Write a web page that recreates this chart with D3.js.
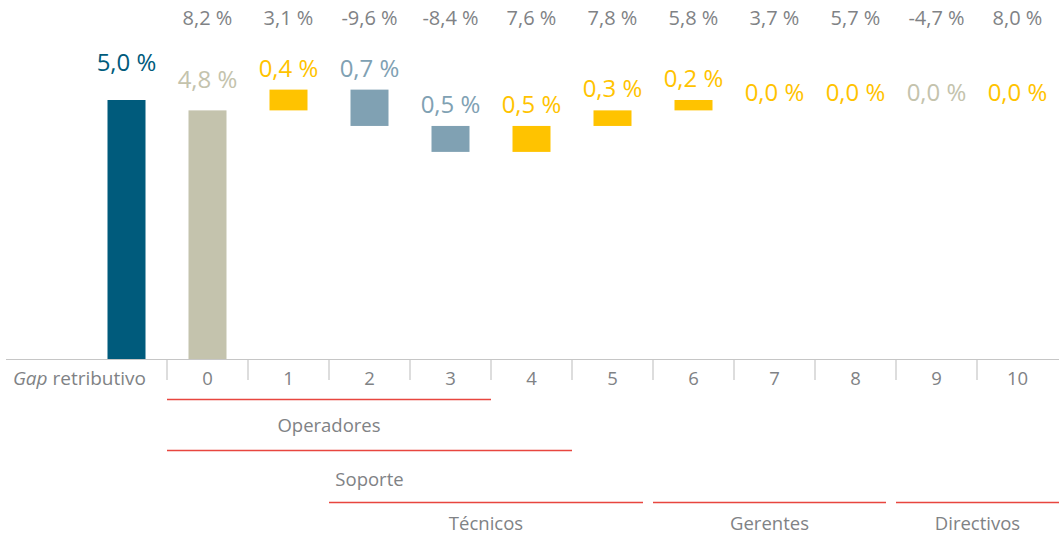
<!DOCTYPE html>
<html>
<head>
<meta charset="utf-8">
<script src="https://cdn.jsdelivr.net/npm/d3@7"></script>
<style>
  body { margin: 0; background: #fff; }
  svg text { font-family: "Open Sans", sans-serif; }
</style>
</head>
<body>
<div id="chart"></div>
<script>
// data
var levels = ["0", "1", "2", "3", "4", "5", "6", "7", "8", "9", "10"]
var gapByLevel = [8.2, 3.1, -9.6, -8.4, 7.6, 7.8, 5.8, 3.7, 5.7, -4.7, 8.0]
// contribution of each level to the total gap (level 0 is the base)
var contribution = [4.8, 0.4, -0.7, -0.5, 0.5, 0.3, 0.2, 0.0, 0.0, 0.0, 0.0]
var contributionKind = ["base", "up", "down", "down", "up", "up", "up", "up", "up", "flat", "up"]
var totalGap = 5.0

var groupNames = ["Operadores", "Soporte", "Técnicos", "Gerentes", "Directivos"]
var groupFrom = ["0", "0", "2", "6", "9"]
var groupTo = ["3", "4", "5", "8", "10"]
var groupRow = [0, 1, 2, 2, 2]

var colors = { total: "#005b7c", base: "#c4c3ad", flat: "#c4c3ad", up: "#ffc300", down: "#80a1b3" }
var grey = "#808285"

var width = 1059, height = 535
var axisY = 359.5

var svg = d3.select("#chart").append("svg")
    .attr("width", width)
    .attr("height", height)

var x = d3.scaleBand()
    .domain(["", "total"].concat(levels))
    .range([5, 1058])
var bw = x.bandwidth()
var barW = 38

var y = d3.scaleLinear()
    .domain([0, 5])
    .range([axisY, 100])

function fmt(v) {
  return Math.abs(v).toFixed(1).replace(".", ",") + " %"
}
function fmtSigned(v) {
  return (v < 0 ? "-" : "") + fmt(v)
}

// waterfall steps
var steps = []
var level = 0
levels.forEach(function(l, i) {
  var start = level
  level = +(level + contribution[i]).toFixed(2)
  steps.push({ cat: l, v: contribution[i], kind: contributionKind[i],
               y0: i == 0 ? 0 : start, y1: level })
})

// total bar
svg.append("rect")
    .attr("x", x("total") + bw / 2 - barW / 2)
    .attr("y", y(totalGap))
    .attr("width", barW)
    .attr("height", y(0) - y(totalGap))
    .attr("fill", colors.total)

svg.append("text")
    .attr("x", x("total") + bw / 2)
    .attr("y", y(totalGap) - 29)
    .attr("text-anchor", "middle")
    .attr("font-size", 24)
    .attr("fill", colors.total)
    .text(fmt(totalGap))

svg.selectAll(".step")
  .data(steps.filter(function(d) { return d.v != 0 }))
  .enter()
  .append("rect")
    .attr("x", function(d) { return x(d.cat) + bw / 2 - barW / 2 })
    .attr("y", function(d) { return y(Math.max(d.y0, d.y1)) })
    .attr("width", barW)
    .attr("height", function(d) { return Math.abs(y(d.y0) - y(d.y1)) })
    .attr("fill", function(d) { return colors[d.kind] })

svg.selectAll(".steplabel")
  .data(steps)
  .enter()
  .append("text")
    .attr("x", function(d) { return x(d.cat) + bw / 2 })
    .attr("y", function(d) {
      if (d.kind == "base") return y(d.y1) - 22
      if (d.v == 0) return y(d.y1) + 1
      return y(Math.max(d.y0, d.y1)) - 13
    })
    .attr("text-anchor", "middle")
    .attr("font-size", 24)
    .attr("fill", function(d) { return colors[d.kind] })
    .text(function(d) { return fmt(d.v) })

// gap by level (top row)
svg.selectAll(".gaplabel")
  .data(levels)
  .enter()
  .append("text")
    .attr("x", function(d) { return x(d) + bw / 2 })
    .attr("y", 25)
    .attr("text-anchor", "middle")
    .attr("font-size", 20)
    .attr("fill", grey)
    .text(function(d, i) { return fmtSigned(gapByLevel[i]) })

// axis
svg.append("line")
    .attr("x1", 6).attr("x2", width)
    .attr("y1", axisY).attr("y2", axisY)
    .attr("stroke", "#c6c6c6")
    .attr("stroke-width", 1.2)

svg.selectAll(".tick")
  .data(levels)
  .enter()
  .append("line")
    .attr("x1", function(d) { return x(d) })
    .attr("x2", function(d) { return x(d) })
    .attr("y1", axisY).attr("y2", 380)
    .attr("stroke", "#c6c6c6")
    .attr("stroke-width", 1.2)

svg.selectAll(".ticklabel")
  .data(levels)
  .enter()
  .append("text")
    .attr("x", function(d) { return x(d) + bw / 2 })
    .attr("y", 385)
    .attr("text-anchor", "middle")
    .attr("font-size", 18.5)
    .attr("fill", grey)
    .text(function(d) { return d })

var axisTitle = svg.append("text")
    .attr("x", 146)
    .attr("y", 385)
    .attr("text-anchor", "end")
    .attr("font-size", 19)
    .attr("fill", grey)
axisTitle.append("tspan").attr("font-style", "italic").text("Gap")
axisTitle.append("tspan").text(" retributivo")

// professional groups
var rowY = [399.5, 450.5, 502.5]
var rowLabelY = [432, 486, 530]
groupNames.forEach(function(name, i) {
  var x1 = x(groupFrom[i])
  var x2 = x(groupTo[i]) + bw
  var next = groupNames.findIndex(function(n, j) {
    return j != i && groupRow[j] == groupRow[i] && groupFrom[j] == levels[levels.indexOf(groupTo[i]) + 1]
  })
  if (next >= 0) x2 -= 10
  if (groupTo[i] == "10") x2 = width
  svg.append("line")
      .attr("x1", x1).attr("x2", x2)
      .attr("y1", rowY[groupRow[i]]).attr("y2", rowY[groupRow[i]])
      .attr("stroke", "#e8463f")
      .attr("stroke-width", 1.5)
  svg.append("text")
      .attr("x", (x1 + x2) / 2)
      .attr("y", rowLabelY[groupRow[i]])
      .attr("text-anchor", "middle")
      .attr("font-size", 18.5)
      .attr("fill", grey)
      .text(name)
})
</script>
</body>
</html>
